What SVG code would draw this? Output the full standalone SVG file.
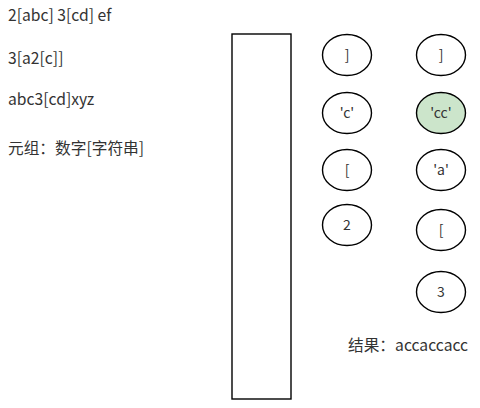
<svg xmlns="http://www.w3.org/2000/svg" width="480" height="408" viewBox="0 0 480 408">
<style>
text{font-family:"Noto Sans CJK SC","Open Sans",sans-serif;font-size:15.7px;fill:#333}
.n ellipse{fill:#fff;stroke:#000;stroke-width:1.4}
.n text{text-anchor:middle;font-size:14px}
</style>
<rect width="480" height="408" fill="#fff"/>
<g id="labels">
<text x="8" y="21">2[abc] 3[cd] ef</text>
<text x="8" y="64">3[a2[c]]</text>
<text x="8" y="105">abc3[cd]xyz</text>
<text x="8" y="154">元组：数字[字符串]</text>
<text x="348" y="351">结果：accaccacc</text>
</g>
<g id="stack"><rect x="232" y="34" width="59" height="365" fill="#fff" stroke="#000" stroke-width="1.4"/></g>
<g id="connectors"></g>
<g id="l1" class="n"><ellipse cx="347" cy="55" rx="24.5" ry="20.5"/><text x="347" y="60">]</text></g>
<g id="l2" class="n"><ellipse cx="347" cy="113" rx="24.5" ry="20.5"/><text x="347" y="118">'c'</text></g>
<g id="l3" class="n"><ellipse cx="347" cy="170" rx="24.5" ry="20.5"/><text x="347" y="175">[</text></g>
<g id="l4" class="n"><ellipse cx="347" cy="225" rx="24.5" ry="20.5"/><text x="347" y="230">2</text></g>
<g id="r1" class="n"><ellipse cx="441" cy="55" rx="24.5" ry="20.5"/><text x="441" y="60">]</text></g>
<g id="r2" class="n"><ellipse cx="441" cy="113" rx="24.5" ry="20.5" style="fill:#cce5cb"/><text x="441" y="118">'cc'</text></g>
<g id="r3" class="n"><ellipse cx="441" cy="170" rx="24.5" ry="20.5"/><text x="441" y="175">'a'</text></g>
<g id="r4" class="n"><ellipse cx="441" cy="230" rx="24.5" ry="20.5"/><text x="441" y="235">[</text></g>
<g id="r5" class="n"><ellipse cx="441" cy="292" rx="24.5" ry="20.5"/><text x="441" y="297">3</text></g>
</svg>
